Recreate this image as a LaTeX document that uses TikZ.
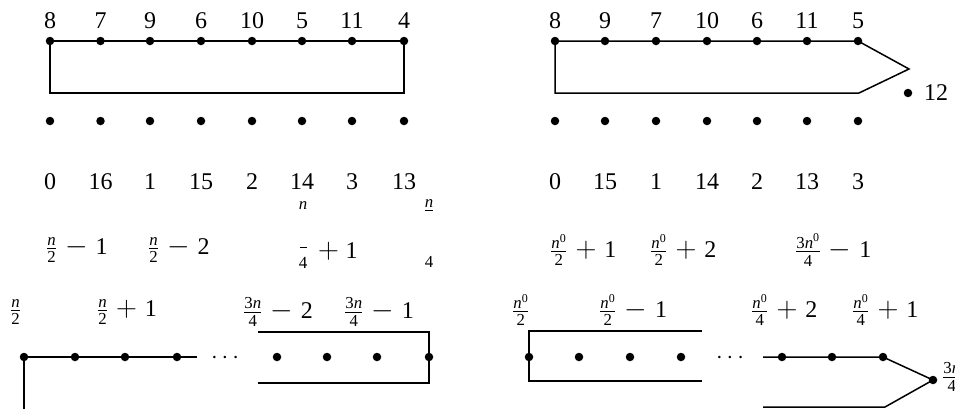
\RequirePackage{fix-cm}
\documentclass[tikz,border=0pt]{standalone}
\usepackage{amsmath}
\usepackage{fontspec}
\setmainfont{Liberation Serif}
\newcommand\nn{\text{\itshape n}}
\newcommand\nz{\text{\itshape n}^{\text{0}}}
\newcommand\tn{\text{3\itshape n}}
\newcommand\tnz{\text{3\itshape n}^{\text{0}}}
\newcommand\mi{\mathbin{\text{\fontsize{29}{29}\selectfont$-$}}}
\newcommand\pl{\mathbin{\text{\fontsize{29}{29}\selectfont$+$}}}
\medmuskip=6mu
\begin{document}
\begin{tikzpicture}[x=1pt,y=-1pt,
 vtx/.style={circle,fill,inner sep=0pt,minimum size=8.5pt},
 lab/.style={inner sep=0pt,font={\fontsize{24}{28}\selectfont}},
 ex/.style={lab,anchor=west},
 edge/.style={line width=1.5pt}]
\clip (0,0) rectangle (955,408);
% ---------- top left ----------
\foreach \x/\t [count=\i] in {50/8,100.5/7,150/9,201/6,252/10,302/5,352/11,404/4}{
  \node[vtx] (ta\i) at (\x,41) {};
  \node[lab] (tl\i) at (\x,21) {\t};}
\foreach \x/\t [count=\i] in {50/0,100.5/16,150/1,201/15,252/2,302/14,352/3,404/13}{
  \node[vtx] (ba\i) at (\x,121) {};
  \node[lab] (bl\i) at (\x,182) {\t};}
\coordinate (r1) at (50,93);
\coordinate (r2) at (404,93);
\draw[edge] (ta1.center) -- (ta8.center);
\draw[edge] (ta1.center) -- (r1) -- (r2) -- (ta8.center);
% ---------- top right ----------
\foreach \x/\t [count=\i] in {555/8,605/9,656/7,707/10,757/6,807/11,858/5}{
  \node[vtx] (te\i) at (\x,41) {};
  \node[lab] (tr\i) at (\x,21) {\t};}
\foreach \x/\t [count=\i] in {555/0,605/15,656/1,707/14,757/2,807/13,858/3}{
  \node[vtx] (be\i) at (\x,121) {};
  \node[lab] (br\i) at (\x,182) {\t};}
\coordinate (t1) at (909,69);
\coordinate (t2) at (859,93);
\coordinate (t3) at (555,93);
\draw[edge] (te1.center) -- (te7.center) -- (t1) -- (t2) -- (t3) -- (te1.center);
\node[vtx] (tw) at (908,93) {};
\node[lab,anchor=west] (twl) at (924,93) {12};
% ---------- middle labels left ----------
\node[ex] (e1) at (46,250) {$\frac{\nn}{\text{2}} \mi \text{1}$};
\node[ex] (e2) at (148,250) {$\frac{\nn}{\text{2}} \mi \text{2}$};
\node[lab] (p1) at (303,206) {$\scriptstyle\nn$};
\node[inner sep=0pt,align=center,anchor=base,font={\fontsize{17}{20}\selectfont}] (p2) at (303,268) {\rule{7pt}{1pt}\\4};
\node[ex] (p3) at (318,251) {$\mathord{\text{\fontsize{29}{29}\selectfont$+$}}\;\text{1}$};
\node[lab] (q1) at (429,212) {$\frac{\nn}{\vphantom{4}}$};
\node[lab] (q2) at (429,262) {$\scriptstyle\text{4}$};
% ---------- middle labels right ----------
\node[ex] (f1) at (550,250) {$\frac{\nz}{\text{2}} \pl \text{1}$};
\node[ex] (f2) at (650,250) {$\frac{\nz}{\text{2}} \pl \text{2}$};
\node[ex] (f3) at (795,250) {$\frac{\tnz}{\text{4}} \mi \text{1}$};
% ---------- bottom labels left ----------
\node[ex] (g1) at (10,312) {$\frac{\nn}{\text{2}}$};
\node[ex] (g2) at (97,312) {$\frac{\nn}{\text{2}} \pl \text{1}$};
\node[ex] (g3) at (243,312) {$\frac{\tn}{\text{4}} \mi \text{2}$};
\node[ex] (g4) at (344,312) {$\frac{\tn}{\text{4}} \mi \text{1}$};
% ---------- bottom labels right ----------
\node[ex] (h1) at (512,310) {$\frac{\nz}{\text{2}}$};
\node[ex] (h2) at (599,310) {$\frac{\nz}{\text{2}} \mi \text{1}$};
\node[ex] (h3) at (751,310) {$\frac{\nz}{\text{4}} \pl \text{2}$};
\node[ex] (h4) at (852,310) {$\frac{\nz}{\text{4}} \pl \text{1}$};
\node[ex] (h5) at (942,377) {$\frac{\tn}{\text{4}}$};
% ---------- bottom left structure ----------
\foreach \x [count=\i] in {24,75,125,177,277,327,377,429}{
  \node[vtx] (c\i) at (\x,357) {};}
\node[lab,anchor=base] (dl) at (227,363) {$\cdots$};
\coordinate (cl) at (197,357);
\coordinate (cb) at (24,412);
\draw[edge] (c1.center) -- (cl);
\draw[edge] (c1.center) -- (cb);
\coordinate (b1) at (258,332);
\coordinate (b2) at (429,332);
\coordinate (b3) at (429,383);
\coordinate (b4) at (258,383);
\draw[edge] (b1) -- (b2) -- (c8.center) -- (b3) -- (b4);
% ---------- bottom right structure ----------
\foreach \x [count=\i] in {529,579,630,681,782,832,883}{
  \node[vtx] (d\i) at (\x,357) {};}
\node[vtx] (d8) at (933,380) {};
\node[lab,anchor=base] (dr) at (732,363) {$\cdots$};
\coordinate (k1) at (702,331);
\coordinate (k2) at (529,331);
\coordinate (k3) at (529,381);
\coordinate (k4) at (702,381);
\draw[edge] (k1) -- (k2) -- (d1.center) -- (k3) -- (k4);
\coordinate (m1) at (763,357);
\coordinate (m2) at (885,407);
\coordinate (m3) at (763,407);
\draw[edge] (m1) -- (d7.center) -- (d8.center) -- (m2) -- (m3);
\end{tikzpicture}
\end{document}
